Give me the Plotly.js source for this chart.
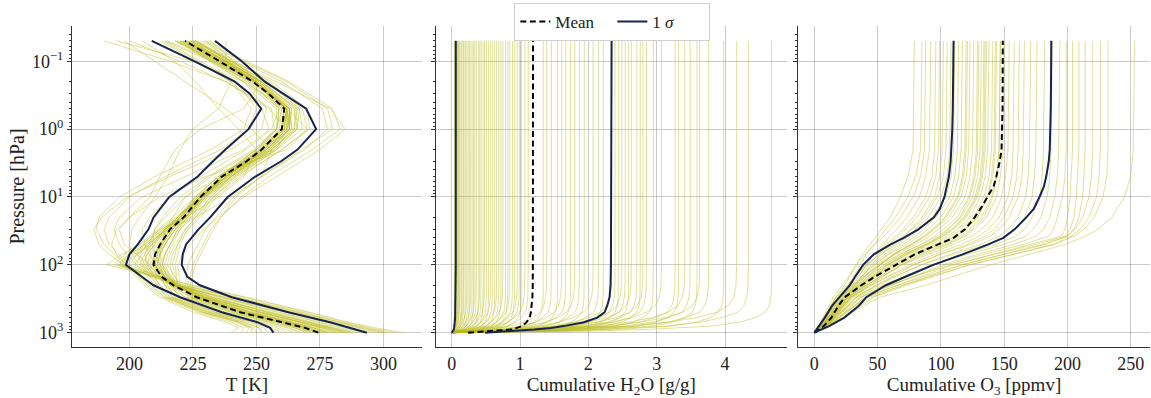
<!DOCTYPE html>
<html><head><meta charset="utf-8">
<script src="https://cdn.plot.ly/plotly-3.0.1.min.js"></script>
<style>html,body{margin:0;padding:0;background:#fff}#chart{width:1151px;height:398px}</style>
</head><body><div id="chart"></div>
<script>
// ---------------- Temperature panel ----------------
const pT = [1000, 850, 700, 500, 300, 200, 100, 70, 50, 30, 20, 10, 5, 2, 1, 0.5, 0.2, 0.1, 0.05];
const tProfiles = [
  [302, 293, 283, 268, 243, 222, 195, 200, 206, 213, 219, 228, 240, 256, 265, 266, 252, 238, 224],
  [300, 291, 282, 266, 241, 220, 194, 198, 205, 212, 218, 229, 241, 257, 264, 263, 250, 236, 222],
  [305, 295, 285, 270, 245, 224, 197, 202, 208, 214, 220, 227, 238, 254, 262, 264, 251, 239, 226],
  [298, 290, 281, 265, 240, 219, 196, 201, 207, 214, 221, 230, 242, 258, 266, 265, 253, 240, 227],
  [296, 288, 279, 263, 238, 217, 198, 203, 209, 215, 222, 230, 240, 255, 263, 262, 249, 235, 221],
  [308, 297, 286, 271, 246, 225, 191, 197, 204, 211, 217, 226, 239, 256, 266, 267, 254, 240, 225],
  [290, 283, 274, 258, 235, 220, 215, 216, 218, 222, 226, 233, 242, 258, 268, 267, 254, 240, 226],
  [288, 281, 272, 256, 232, 218, 212, 214, 216, 220, 225, 232, 241, 257, 266, 266, 252, 238, 223],
  [285, 278, 268, 252, 230, 218, 216, 217, 219, 223, 228, 234, 244, 260, 270, 268, 255, 242, 228],
  [282, 276, 267, 251, 229, 219, 217, 218, 219, 222, 226, 232, 240, 254, 262, 262, 250, 236, 222],
  [279, 273, 264, 248, 227, 218, 214, 215, 217, 220, 224, 230, 239, 255, 264, 263, 249, 234, 220],
  [277, 271, 262, 246, 226, 219, 218, 219, 220, 223, 227, 233, 243, 260, 271, 270, 256, 241, 226],
  [273, 268, 260, 244, 225, 224, 226, 228, 230, 233, 236, 242, 252, 268, 280, 278, 262, 245, 230],
  [271, 266, 258, 242, 224, 223, 225, 227, 229, 232, 236, 244, 255, 272, 283, 280, 263, 246, 231],
  [268, 263, 255, 240, 223, 222, 223, 225, 227, 230, 234, 241, 252, 269, 278, 276, 260, 244, 229],
  [265, 260, 252, 236, 220, 216, 213, 212, 213, 214, 217, 222, 232, 250, 260, 262, 250, 236, 220],
  [262, 258, 250, 234, 218, 215, 212, 210, 209, 210, 213, 220, 231, 249, 258, 260, 249, 235, 218],
  [258, 255, 248, 232, 217, 214, 210, 208, 206, 205, 208, 216, 228, 246, 256, 259, 250, 233, 215],
  [250, 249, 244, 230, 215, 210, 203, 199, 196, 194, 196, 205, 222, 245, 255, 252, 240, 226, 212],
  [246, 247, 242, 228, 214, 209, 200, 196, 192, 190, 192, 200, 214, 236, 247, 250, 242, 228, 214],
  [244, 245, 240, 227, 213, 207, 199, 194, 190, 187, 188, 196, 210, 232, 245, 248, 240, 227, 213],
  [248, 248, 243, 229, 215, 211, 205, 203, 205, 212, 222, 235, 245, 250, 243, 235, 226, 218, 205],
  [252, 251, 245, 231, 216, 212, 206, 204, 207, 215, 226, 240, 252, 256, 248, 238, 222, 210, 198],
  [255, 253, 247, 233, 217, 212, 207, 206, 208, 210, 214, 222, 236, 258, 262, 255, 238, 220, 200],
  [270, 265, 256, 240, 222, 214, 210, 211, 212, 215, 219, 226, 235, 250, 257, 256, 238, 216, 190],
  [276, 270, 261, 245, 227, 217, 210, 211, 213, 217, 222, 229, 237, 251, 258, 258, 245, 225, 195],
  [281, 275, 265, 249, 229, 216, 206, 207, 210, 214, 219, 226, 235, 252, 261, 262, 251, 241, 232],
  [285, 278, 268, 252, 230, 217, 205, 207, 210, 215, 220, 227, 236, 252, 260, 261, 250, 238, 238],
  [292, 284, 275, 259, 236, 218, 202, 205, 209, 214, 220, 228, 238, 254, 262, 262, 250, 237, 225],
  [294, 286, 277, 261, 237, 219, 200, 203, 208, 214, 220, 228, 239, 255, 263, 262, 248, 234, 218],
  [288, 280, 271, 255, 233, 219, 208, 210, 213, 217, 222, 229, 238, 254, 263, 264, 252, 239, 226],
  [274, 269, 260, 244, 226, 218, 213, 214, 216, 219, 223, 230, 238, 253, 261, 262, 249, 236, 222],
  [267, 262, 254, 238, 222, 216, 211, 211, 213, 216, 220, 226, 235, 252, 261, 261, 249, 235, 221],
  [272, 267, 259, 243, 225, 220, 219, 221, 224, 229, 235, 245, 258, 275, 285, 279, 258, 240, 226],
  [260, 256, 249, 234, 219, 214, 208, 203, 198, 196, 200, 212, 230, 262, 270, 262, 245, 232, 218],
  [240, 243, 238, 225, 212, 206, 198, 192, 188, 186, 189, 199, 216, 240, 252, 254, 245, 232, 219],
  [278, 272, 263, 247, 228, 217, 209, 210, 212, 216, 221, 228, 237, 251, 260, 262, 248, 232, 214],
  [284, 277, 267, 251, 231, 218, 207, 208, 211, 215, 220, 228, 236, 250, 258, 259, 247, 233, 219],
  [301, 292, 283, 267, 242, 221, 196, 200, 206, 213, 219, 228, 240, 256, 263, 263, 250, 237, 223],
  [287, 280, 270, 254, 233, 219, 210, 212, 214, 218, 223, 229, 238, 254, 263, 263, 252, 240, 230],
  [253, 251, 245, 231, 216, 211, 204, 201, 200, 201, 204, 210, 215, 220, 225, 235, 240, 232, 220],
  [249, 248, 243, 229, 214, 208, 199, 195, 193, 195, 200, 208, 212, 218, 228, 245, 252, 238, 222],
  [276, 270, 262, 246, 228, 218, 211, 212, 214, 218, 223, 230, 238, 253, 262, 262, 250, 237, 223],
  [272, 267, 259, 243, 225, 216, 210, 210, 212, 216, 221, 228, 237, 252, 260, 261, 249, 236, 222],
  [280, 273, 264, 248, 229, 218, 209, 210, 212, 216, 221, 228, 237, 253, 261, 262, 250, 238, 224],
  [270, 265, 257, 241, 224, 216, 211, 212, 214, 217, 222, 229, 237, 252, 259, 260, 247, 234, 221],
  [283, 276, 267, 251, 230, 217, 207, 209, 212, 216, 221, 229, 238, 254, 263, 263, 251, 239, 225],
  [278, 272, 263, 247, 228, 219, 213, 214, 216, 219, 224, 231, 240, 256, 265, 265, 252, 238, 224],
  [286, 279, 270, 254, 232, 217, 204, 206, 209, 214, 219, 227, 237, 253, 262, 263, 251, 237, 222],
  [275, 269, 261, 245, 227, 218, 212, 212, 214, 218, 222, 229, 236, 250, 258, 259, 246, 233, 220]
];
const pStatT = [1000, 850, 700, 500, 300, 200, 150, 100, 70, 50, 30, 20, 10, 5, 3, 2, 1, 0.5, 0.3, 0.2, 0.1, 0.05];
const tMean = [274.4, 269.2, 260, 243.6, 226.5, 217.3, 212.7, 209.5, 210.1, 212.1, 216, 221.3, 228, 236.4, 246, 252.1, 260, 261, 254.8, 248.6, 235.5, 221.9];
const tLow  = [256.7, 255.4, 250.4, 236.4, 220, 209.5, 204.9, 198.6, 200, 203.3, 207.5, 209.5, 215.7, 226.9, 232.8, 237.8, 246.9, 251.9, 247.4, 241.5, 225.7, 208.8];
const tHigh = [293.5, 286.9, 279, 262.6, 240.3, 227.8, 222.8, 220.6, 221, 222.3, 227.2, 231.8, 238.7, 249.6, 259.6, 266.2, 273.5, 269.6, 260.7, 253.3, 244.2, 233.7];

// ---------------- Cumulative H2O panel ----------------
const pH = [1000, 950, 900, 850, 800, 700, 600, 500, 400, 300, 200, 100, 0.05];
const h2oTotals = [0.04, 0.05, 0.06, 0.07, 0.08, 0.09, 0.1, 0.11, 0.12, 0.14, 0.15, 0.17, 0.18, 0.2, 0.22, 0.24, 0.26, 0.28, 0.3, 0.32, 0.34, 0.36, 0.39, 0.41, 0.43, 0.46, 0.48, 0.51, 0.54, 0.57, 0.6, 0.63, 0.66, 0.69, 0.72, 0.75, 0.79, 0.82, 0.85, 0.89, 0.92, 0.96, 0.99, 1.02, 1.07, 1.12,
  1.34, 1.39, 1.46, 1.55, 1.61, 1.67, 1.74, 1.8, 1.87, 1.94, 2.07, 2.15, 2.22, 2.34, 2.39, 2.44, 2.49, 2.54, 2.59, 2.63, 2.71, 2.76, 2.8, 2.85, 2.95, 3.07, 3.27, 3.32, 3.41, 3.49, 3.59, 3.63, 3.76, 3.98, 4.17, 4.34, 4.68];
// fraction of the column total reached at each level
const h2oShapeA = [0, 0.33, 0.49, 0.62, 0.72, 0.84, 0.91, 0.965, 0.985, 0.995, 0.999, 1, 1];
const h2oShapeB = [0, 0.42, 0.6, 0.72, 0.81, 0.9, 0.95, 0.98, 0.993, 0.998, 1, 1, 1];
const h2oShapeC = [0, 0.25, 0.4, 0.52, 0.62, 0.76, 0.86, 0.93, 0.97, 0.99, 0.998, 1, 1];
const h2oMean = [0.24, 0.63, 0.86, 0.955, 1.025, 1.097, 1.142, 1.159, 1.171, 1.181, 1.186, 1.188, 1.19];
const h2oLow  = [0, 0.02, 0.03, 0.035, 0.04, 0.045, 0.05, 0.052, 0.055, 0.057, 0.058, 0.06, 0.06];
const h2oHigh = [0.49, 0.91, 1.21, 1.45, 1.64, 1.935, 2.13, 2.237, 2.276, 2.31, 2.325, 2.33, 2.34];

// ---------------- Cumulative O3 panel ----------------
const pO = [1000, 700, 500, 300, 200, 150, 100, 70, 50, 38, 30, 20, 10, 5, 2, 0.05];
const o3Profiles = [
  [0, 6, 10, 17, 24, 28, 33, 38, 44, 49, 53, 60, 68, 74, 78, 79],
  [0, 7, 12, 19, 27, 31, 36, 41, 47, 52, 57, 64, 74, 80, 84, 85],
  [0, 5, 9, 15, 22, 27, 33, 40, 48, 55, 60, 68, 78, 84, 87, 88],
  [0, 8, 13, 21, 30, 35, 41, 47, 54, 60, 65, 73, 83, 88, 91, 92],
  [0, 6, 11, 18, 27, 32, 40, 48, 57, 64, 70, 78, 88, 93, 95, 96],
  [0, 9, 15, 23, 32, 37, 43, 50, 59, 66, 72, 81, 91, 96, 98, 99],
  [0, 7, 12, 19, 28, 34, 42, 51, 62, 70, 76, 85, 95, 99, 101, 102],
  [0, 10, 16, 24, 33, 38, 45, 53, 63, 71, 77, 87, 97, 102, 104, 105],
  [0, 6, 10, 17, 26, 32, 41, 52, 65, 74, 80, 90, 100, 105, 107, 108],
  [0, 8, 14, 22, 31, 37, 46, 56, 68, 77, 83, 93, 104, 108, 110, 111],
  [0, 11, 17, 25, 34, 40, 48, 58, 70, 80, 86, 96, 107, 111, 113, 114],
  [0, 7, 12, 20, 30, 37, 47, 59, 73, 83, 90, 100, 110, 114, 116, 117],
  [0, 9, 15, 23, 33, 40, 50, 62, 76, 86, 93, 103, 113, 117, 119, 120],
  [0, 12, 18, 26, 36, 42, 52, 63, 77, 88, 95, 106, 116, 120, 122, 123],
  [0, 8, 13, 21, 32, 39, 51, 64, 80, 91, 98, 109, 119, 123, 125, 126],
  [0, 10, 16, 25, 36, 44, 55, 68, 84, 95, 102, 113, 122, 126, 128, 129],
  [0, 7, 12, 20, 31, 39, 52, 67, 85, 97, 105, 116, 125, 129, 131, 132],
  [0, 11, 17, 26, 38, 46, 58, 72, 89, 101, 109, 119, 128, 132, 134, 135],
  [0, 9, 15, 24, 36, 45, 58, 74, 92, 105, 113, 123, 131, 135, 137, 138],
  [0, 13, 19, 28, 40, 49, 62, 77, 95, 108, 116, 126, 134, 138, 140, 141],
  [0, 8, 14, 23, 36, 46, 61, 78, 98, 111, 119, 129, 137, 141, 143, 144],
  [0, 10, 17, 27, 41, 51, 66, 83, 102, 115, 123, 132, 140, 144, 146, 147],
  [0, 12, 19, 29, 43, 54, 69, 87, 106, 119, 127, 136, 144, 147, 149, 150],
  [0, 9, 16, 26, 41, 53, 70, 90, 110, 124, 132, 141, 148, 151, 153, 154],
  [0, 11, 18, 29, 45, 57, 75, 95, 116, 130, 137, 146, 153, 156, 157, 158],
  [0, 14, 22, 33, 49, 61, 79, 99, 121, 135, 142, 150, 157, 160, 161, 162],
  [0, 10, 17, 28, 45, 58, 78, 100, 124, 139, 146, 154, 161, 164, 165, 166],
  [0, 13, 21, 33, 51, 64, 84, 107, 131, 146, 153, 161, 167, 169, 170, 171],
  [0, 11, 19, 31, 49, 63, 85, 110, 136, 152, 159, 166, 172, 174, 175, 176],
  [0, 15, 24, 37, 56, 70, 92, 117, 143, 159, 166, 172, 178, 180, 181, 182],
  [0, 12, 21, 34, 54, 70, 94, 121, 150, 167, 173, 179, 184, 186, 187, 188],
  [0, 16, 26, 40, 61, 77, 101, 129, 158, 175, 181, 186, 190, 192, 193, 194],
  [0, 13, 22, 37, 60, 78, 104, 134, 165, 185, 189, 192, 196, 198, 199, 199],
  [0, 15, 25, 41, 65, 83, 110, 141, 172, 195, 198, 200, 202, 203, 204, 204],
  [0, 12, 21, 36, 59, 78, 108, 142, 175, 198, 202, 205, 207, 208, 209, 209],
  [0, 17, 28, 45, 70, 89, 117, 149, 180, 200, 205, 209, 212, 213, 214, 214],
  [0, 14, 24, 40, 66, 86, 116, 150, 183, 199, 206, 212, 217, 219, 220, 220],
  [0, 18, 29, 47, 73, 93, 123, 157, 188, 203, 210, 217, 223, 225, 226, 226],
  [0, 15, 25, 43, 70, 91, 122, 158, 190, 205, 213, 221, 228, 231, 232, 232],
  [0, 18, 30, 52, 88, 110, 139, 170, 198, 214, 224, 235, 245, 250, 252, 253],
  [0, 9, 15, 24, 35, 42, 52, 63, 77, 87, 94, 104, 114, 118, 120, 121],
  [0, 11, 18, 27, 39, 47, 59, 73, 90, 102, 110, 120, 129, 133, 135, 136],
  [0, 8, 14, 22, 34, 42, 55, 70, 88, 100, 108, 118, 127, 131, 133, 134],
  [0, 12, 19, 29, 42, 51, 64, 80, 99, 112, 120, 129, 137, 140, 142, 143],
  [0, 10, 16, 25, 37, 45, 57, 71, 88, 99, 106, 115, 123, 127, 129, 130],
  [0, 13, 20, 30, 44, 54, 68, 85, 104, 117, 125, 134, 141, 144, 146, 147]
];
const pStatO = [1000, 800, 600, 400, 300, 200, 150, 100, 70, 50, 40, 30, 20, 15, 10, 7, 5, 3, 2, 1, 0.5, 0.2, 0.05];
const o3Mean = [0, 7.5, 13.5, 19, 24.1, 37.2, 47.7, 64, 79.5, 97.8, 110, 119, 126.7, 131.2, 137, 141.6, 143.8, 146.5, 147.9, 148.4, 148.7, 148.8, 148.9];
const o3Low  = [0, 3.7, 8.3, 14.1, 20, 28.1, 32.2, 38.5, 47, 60.3, 70.6, 82.2, 94.5, 99.1, 102.8, 104.9, 106.3, 107.7, 108.4, 109, 109.4, 109.7, 110];
const o3High = [0, 11.7, 23.7, 35.2, 41.1, 56.5, 72, 94, 117.2, 137.5, 149.3, 158.2, 167.5, 173.3, 177.9, 181.4, 183.2, 185.2, 186, 186.5, 186.8, 187, 187.2];

// ---------------- labels ----------------
const yTickVals = [0.1, 1, 10, 100, 1000];
const yTickText = ['10<sup>−1</sup>', '10<sup>0</sup>', '10<sup>1</sup>', '10<sup>2</sup>', '10<sup>3</sup>'];
const xTitles = ['T [K]', 'Cumulative H<sub>2</sub>O [g/g]', 'Cumulative O<sub>3</sub> [ppmv]'];
const yTitle = 'Pressure [hPa]';
const legendNames = ['Mean', '1 <i>σ</i>'];

// ---------------- build traces ----------------
const PROFILE = 'rgba(188,189,34,0.45)';
const NAVY = '#16254f';
const traces = [];
function addProfile(x, y, ax) {
  traces.push({type: 'scatter', mode: 'lines', x: x, y: y, xaxis: 'x' + ax, yaxis: 'y' + ax,
    line: {color: PROFILE, width: 1}, showlegend: false, hoverinfo: 'skip'});
}
function addStats(mean, low, high, y, ax, legend) {
  traces.push({type: 'scatter', mode: 'lines', x: mean, y: y, xaxis: 'x' + ax, yaxis: 'y' + ax,
    name: legendNames[0], legendgroup: 'm', showlegend: legend, line: {color: '#000', width: 2, dash: '6px,3.5px'}});
  traces.push({type: 'scatter', mode: 'lines', x: low, y: y, xaxis: 'x' + ax, yaxis: 'y' + ax,
    name: legendNames[1], legendgroup: 's', showlegend: legend, line: {color: NAVY, width: 2}});
  traces.push({type: 'scatter', mode: 'lines', x: high, y: y, xaxis: 'x' + ax, yaxis: 'y' + ax,
    name: legendNames[1], legendgroup: 's', showlegend: false, line: {color: NAVY, width: 2}});
}
tProfiles.forEach(r => addProfile(r, pT, ''));
const shapes = [h2oShapeA, h2oShapeB, h2oShapeC];
h2oTotals.forEach((tot, i) => addProfile(shapes[i % 3].map(f => f * tot), pH, '2'));
o3Profiles.forEach(r => addProfile(r, pO, '3'));
addStats(tMean, tLow, tHigh, pStatT, '', true);
addStats(h2oMean, h2oLow, h2oHigh, pH, '2', false);
addStats(o3Mean, o3Low, o3High, pStatO, '3', false);

// ---------------- layout ----------------
const FONT = '"Liberation Serif", "DejaVu Serif", serif';
const W = 1151;
const minorVals = [];
[0.01, 0.1, 1, 10, 100, 1000].forEach(d => { for (let k = 2; k <= 9; k++) minorVals.push(d * k); });
function yax(showLabels) {
  return {type: 'log', range: [3.211, -1.52], autorange: false, domain: [0, 1],
    tickmode: 'array', tickvals: yTickVals, ticktext: yTickText, showticklabels: showLabels,
    ticks: 'outside', ticklen: 4, tickwidth: 1, tickcolor: '#333',
    minor: {tickmode: 'array', tickvals: minorVals, ticks: 'outside', ticklen: 2, tickcolor: '#333', showgrid: false},
    showline: true, linecolor: '#333', linewidth: 1, zeroline: false,
    showgrid: true, gridcolor: 'rgba(0,0,0,0.2)', gridwidth: 1,
    tickfont: {family: FONT, size: 18, color: '#222'}};
}
function xax(domain, range, dtick, title) {
  return {domain: domain, range: range, autorange: false, tickmode: 'linear', tick0: 0, dtick: dtick,
    ticks: '', showline: true, linecolor: '#333', linewidth: 1, zeroline: false,
    showgrid: true, gridcolor: 'rgba(0,0,0,0.2)', gridwidth: 1,
    tickfont: {family: FONT, size: 18, color: '#222'},
    title: {text: title, font: {family: FONT, size: 19, color: '#222'}, standoff: 2}};
}
const y1 = yax(true);
y1.title = {text: yTitle, font: {family: FONT, size: 20, color: '#222'}, standoff: 1};
const y2 = yax(false); y2.matches = 'y'; y2.anchor = 'x2';
const y3 = yax(false); y3.matches = 'y'; y3.anchor = 'x3';
y1.anchor = 'x';

const layout = {
  width: 1151, height: 398,
  margin: {l: 0, r: 0, t: 26, b: 51, pad: 0},
  paper_bgcolor: '#fff', plot_bgcolor: '#fff',
  font: {family: FONT, color: '#222'},
  xaxis: xax([72 / W, 422 / W], [177.4, 315.2], 25, xTitles[0]),
  xaxis2: xax([435.5 / W, 787 / W], [-0.237, 4.907], 1, xTitles[1]),
  xaxis3: xax([798 / W, 1150 / W], [-12.9, 265.2], 50, xTitles[2]),
  yaxis: y1, yaxis2: y2, yaxis3: y3,
  showlegend: true,
  legend: {orientation: 'h', x: 0.532, xanchor: 'center', y: 1.0717, yanchor: 'top',
    bgcolor: '#fff', bordercolor: '#d0d0d0', borderwidth: 1,
    entrywidth: 52, entrywidthmode: 'pixels',
    font: {family: FONT, size: 17, color: '#222'}, traceorder: 'normal'}
};
layout.xaxis.anchor = 'y';
layout.xaxis2.anchor = 'y2';
layout.xaxis3.anchor = 'y3';

Plotly.newPlot('chart', traces, layout, {staticPlot: true, displayModeBar: false});
</script>
</body></html>
